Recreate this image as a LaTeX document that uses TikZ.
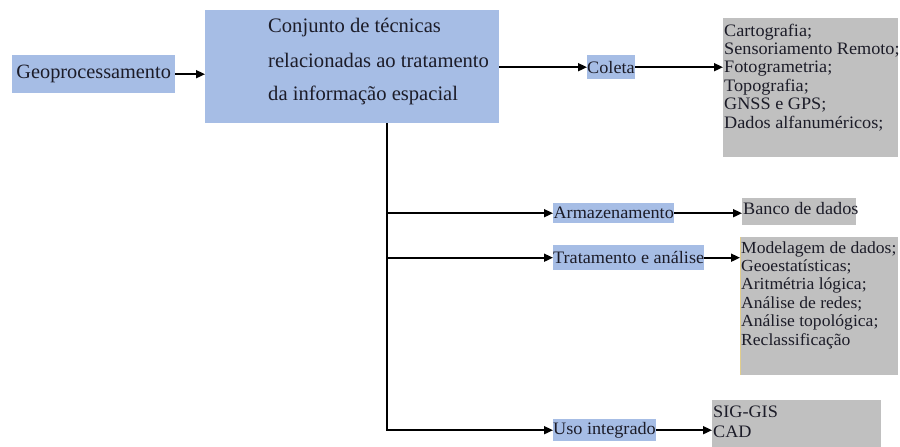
\documentclass[tikz,border=0pt]{standalone}
\usepackage{fontspec}
\setmainfont{Liberation Serif}
\newfontfamily\widerserif{Liberation Serif}[FakeStretch=1.04]
\usetikzlibrary{arrows.meta}
\definecolor{boxblue}{RGB}{166,189,229}
\definecolor{boxgray}{RGB}{192,192,192}
\definecolor{ink}{RGB}{28,28,40}
\definecolor{edgeyellow}{RGB}{226,206,140}
\begin{document}
\begin{tikzpicture}[x=1pt,y=-1pt,
  bluebox/.style={fill=boxblue, inner sep=0pt, anchor=north west, text=ink,
    font=\widerserif\fontsize{17.5}{18.4}\selectfont},
  bigfont/.style={font=\fontsize{20.6}{24}\selectfont},
  graybox/.style={fill=boxgray, anchor=north west, inner sep=0pt},
  listtext/.style={anchor=base west, inner sep=0pt, text=ink,
    font=\widerserif\fontsize{17.5}{18.4}\selectfont},
  conn/.style={line width=1.7pt, draw=black, -{Triangle[length=9pt,width=8pt]}}
]
\useasboundingbox (0,0) rectangle (900,447);
\fill[white] (0,0) rectangle (900,447);

% blue boxes
\node[bluebox, font=\fontsize{20.3}{24}\selectfont, minimum width=163pt, minimum height=38pt] (geo) at (12,55) {Geoprocessamento};
\node[bluebox, minimum width=294pt, minimum height=113pt] (tec) at (205,10) {};
\node[anchor=base west, inner sep=0pt, text=ink, bigfont] (t1) at (268,32) {Conjunto de técnicas};
\node[anchor=base west, inner sep=0pt, text=ink, bigfont] (t2) at (268,67) {relacionadas ao tratamento};
\node[anchor=base west, inner sep=0pt, text=ink, bigfont] (t3) at (268,100) {da informação espacial};

\node[bluebox, minimum width=46pt, minimum height=24pt] (col) at (587,55) {Coleta};
\node[bluebox, minimum width=121pt, minimum height=20pt] (arm) at (553,203) {Armazenamento};
\node[bluebox, minimum width=149pt, minimum height=25pt] (trat) at (553,245) {Tratamento e análise};
\node[bluebox, minimum width=101pt, minimum height=22pt] (uso) at (553,419) {Uso integrado};

% gray boxes
\node[graybox, minimum width=175pt, minimum height=139pt] (gcol) at (723,18) {};
\node[graybox, minimum width=114pt, minimum height=27pt] (gban) at (742,198) {};
\node[graybox, minimum width=158pt, minimum height=138pt] (gtrat) at (740,237) {};
\node[graybox, minimum width=169pt, minimum height=47pt] (guso) at (712,400) {};
\draw[edgeyellow, line width=1pt] ([xshift=0.5pt]gtrat.north west) -- ([xshift=0.5pt]gtrat.south west);

% list texts
\foreach \t [count=\i] in {Cartografia;, Sensoriamento Remoto;, Fotogrametria;, Topografia;, GNSS e GPS;, Dados alfanuméricos;}
  \node[listtext] (c\i) at (724,{36+18.4*(\i-1)}) {\t};
\node[listtext] (b1) at (743,214) {Banco de dados};
\foreach \t [count=\i] in {Modelagem de dados;, Geoestatísticas;, Aritmétria lógica;, Análise de redes;, Análise topológica;, Reclassificação}
  \node[listtext, font=\widerserif\fontsize{16.9}{18.4}\selectfont] (m\i) at (741,{253+18.4*(\i-1)}) {\t};
\node[listtext] (u1) at (713,417) {SIG-GIS};
\node[listtext] (u2) at (713,437) {CAD};

% connectors
\draw[conn] (geo.east) -- (tec.west |- geo.east);
\draw[conn] (tec.east |- col.west) -- (col.west);
\draw[conn] (col.east) -- (gcol.west |- col.east);
\path (tec.south west) ++(182,0) coordinate (trunk);
\draw[conn] (trunk) |- (uso.west);
\draw[conn] (trunk |- arm.west) -- (arm.west);
\draw[conn] (trunk |- trat.west) -- (trat.west);
\draw[conn] (arm.east) -- (gban.west |- arm.east);
\draw[conn] (trat.east) -- (gtrat.west |- trat.east);
\draw[conn] (uso.east) -- (guso.west |- uso.east);
\end{tikzpicture}
\end{document}
